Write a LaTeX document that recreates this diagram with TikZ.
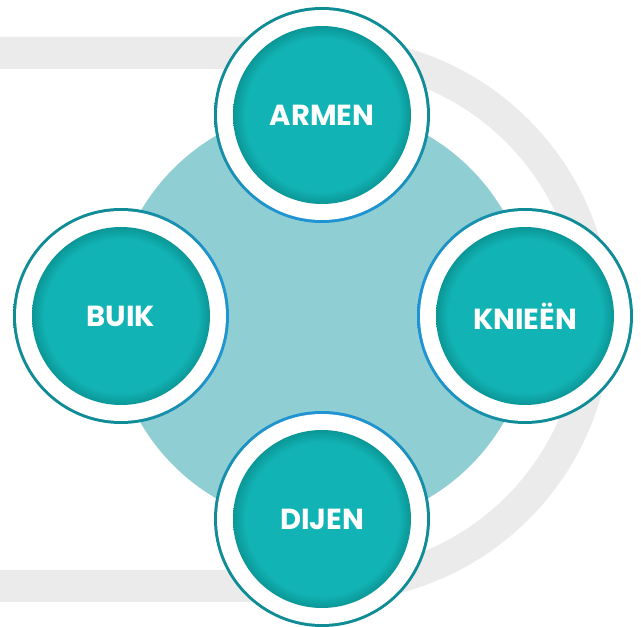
\documentclass[tikz,border=0pt]{standalone}
\usepackage{fontspec}
\setmainfont{Poppins}
\usetikzlibrary{positioning}
\definecolor{bandgray}{RGB}{235,235,235}
\definecolor{hubteal}{RGB}{143,206,211}
\definecolor{ringteal}{RGB}{16,140,150}
\definecolor{ringblue}{RGB}{32,148,210}
\definecolor{diskteal}{RGB}{18,179,181}
\definecolor{diskrim}{RGB}{11,150,150}
\pgfdeclareradialshading{diskshade}{\pgfpoint{0bp}{0bp}}{color(0bp)=(diskteal); color(21.5bp)=(diskteal); color(25bp)=(diskrim); color(50bp)=(diskrim)}
\pgfdeclareverticalshading{ringshade}{100bp}{color(0bp)=(ringblue); color(27bp)=(ringblue); color(48bp)=(ringteal); color(100bp)=(ringteal)}
\tikzstyle{hubdisk}=[circle, fill=hubteal, minimum size=420pt, inner sep=0pt]
\tikzstyle{ringbox}=[circle, minimum size=216pt, inner sep=0pt, shade, shading=ringshade]
\tikzstyle{partbox}=[circle, minimum size=178pt, inner sep=0pt, shade, shading=diskshade, text=white, font=\bfseries\fontsize{29}{31}\selectfont]

\begin{document}
\begin{tikzpicture}[x=1pt, y=1pt]
        \useasboundingbox (0,0) rectangle (641,627);
        % grey track behind everything
        \draw[bandgray, line width=32pt]
            (0,574) -- (329,574) arc[start angle=90, end angle=-90, radius=266.5] -- (0,41);

        \node[hubdisk] (hub) at (322,310) {};

        \foreach \nm/\x/\y/\ang/\txt in {armen/322/512/0/ARMEN, knieen/525/311/-90/KNIEËN,
                                         dijen/322/108/180/DIJEN, buik/121/311/90/BUIK} {
            \node[ringbox, shading angle=\ang] (\nm ring) at (\x,\y) {};
            \fill[white] (\nm ring.center) circle (105);
            \node[partbox] (\nm) at (\nm ring.center) {\txt};
        }
    \end{tikzpicture}
\end{document}
